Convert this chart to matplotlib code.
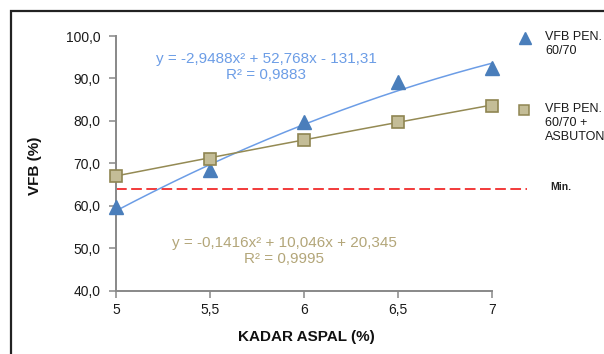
import numpy as np
import matplotlib.pyplot as plt
from matplotlib.patches import Rectangle

plt.rcParams['font.family'] = ['Liberation Sans', 'DejaVu Sans']

# kadar aspal (%) and measured VFB (%)
kadar = [5, 5.5, 6, 6.5, 7]
vfb_pen = [59.8, 68.4, 79.8, 89.2, 92.5]
vfb_asbuton = [67.1, 71.0, 75.5, 79.7, 83.5]
vfb_min = 64.0

# polynomial trendlines (order 2) as printed on the chart
coef_pen = [-2.9488, 52.768, -131.31]
coef_asbuton = [-0.1416, 10.046, 20.345]
eq_pen = "y = -2,9488x² + 52,768x - 131,31\nR² = 0,9883"
eq_asbuton = "y = -0,1416x² + 10,046x + 20,345\nR² = 0,9995"

x_ticks = [5, 5.5, 6, 6.5, 7]
x_tick_labels = ["5", "5,5", "6", "6,5", "7"]
y_ticks = [40, 50, 60, 70, 80, 90, 100]
y_tick_labels = ["40,0", "50,0", "60,0", "70,0", "80,0", "90,0", "100,0"]

W, H = 604, 354
fig = plt.figure(figsize=(W / 100, H / 100), dpi=100)
ax = fig.add_axes([116 / W, 63.3 / H, (491.7 - 116) / W, (290.7 - 36) / H])

# chart border
fig.patches.append(Rectangle((10.5 / W, -0.1), 1.2, 1.1 - 11.5 / H, transform=fig.transFigure,
                             fill=False, edgecolor='#222222', linewidth=1.6))

xs = np.linspace(5, 7, 200)
ax.plot(xs, np.polyval(coef_pen, xs), color='#6C9DE6', lw=1.1, zorder=2)
ax.plot(xs, np.polyval(coef_asbuton, xs), color='#948A54', lw=1.1, zorder=2)

ax.plot(kadar, vfb_pen, linestyle='none', marker='^', markersize=9.5,
        color='#4A7EBB', markeredgecolor='#4A7EBB', clip_on=False, zorder=3)
ax.plot(kadar, vfb_asbuton, linestyle='none', marker='s', markersize=8,
        markerfacecolor='#C4BD97', markeredgecolor='#8F8552', markeredgewidth=1.2,
        clip_on=False, zorder=3)

# minimum requirement line, runs past the plot area up to the "Min." label
ax.plot([5, 7.19], [vfb_min, vfb_min], color='#F23A3A', lw=1.4,
        dashes=(5.5, 2.3), clip_on=False, zorder=1)
fig.text(550 / W, 1 - 187 / H, "Min.", fontsize=7.5, fontweight='bold',
         color='#222222', va='center', ha='left')

ax.text(266 / W, 1 - 67 / H, eq_pen, transform=fig.transFigure, fontsize=11,
        color='#6C9DE6', ha='center', va='center', linespacing=1.25)
ax.text(284 / W, 1 - 251 / H, eq_asbuton, transform=fig.transFigure, fontsize=11,
        color='#B3A679', ha='center', va='center', linespacing=1.25)

ax.set_xlim(5, 7)
ax.set_ylim(40, 100)
ax.set_xticks(x_ticks)
ax.set_xticklabels(x_tick_labels)
ax.set_yticks(y_ticks)
ax.set_yticklabels(y_tick_labels)
ax.tick_params(axis='both', direction='out', length=5, width=1.1, color='#888888',
               labelsize=10, labelcolor='#1a1a1a')
ax.tick_params(axis='y', pad=6)
ax.tick_params(axis='x', pad=4)
for side in ['top', 'right']:
    ax.spines[side].set_visible(False)
for side in ['left', 'bottom']:
    ax.spines[side].set_color('#888888')
    ax.spines[side].set_linewidth(1.4)

fig.text(306 / W, 1 - 337 / H, "KADAR ASPAL (%)", fontsize=11, fontweight='bold',
         ha='center', va='center', color='#111111')
fig.text(35 / W, 1 - 166 / H, "VFB (%)", fontsize=11, fontweight='bold',
         rotation=90, ha='center', va='center', color='#111111')

# legend drawn by hand so markers sit on the first line of each label
ax.plot([525 / W], [1 - 38 / H], marker='^', markersize=8.5, color='#4A7EBB',
        transform=fig.transFigure, clip_on=False)
ax.plot([524 / W], [1 - 110 / H], marker='s', markersize=7,
        markerfacecolor='#C4BD97', markeredgecolor='#8F8552', markeredgewidth=1.1,
        transform=fig.transFigure, clip_on=False)
fig.text(545 / W, 1 - 31 / H, "VFB PEN.\n60/70", fontsize=9, color='#1a1a1a',
         ha='left', va='top', linespacing=1.25)
fig.text(545 / W, 1 - 103 / H, "VFB PEN.\n60/70 +\nASBUTON", fontsize=9,
         color='#1a1a1a', ha='left', va='top', linespacing=1.25)

fig.savefig('out.png', dpi=100)
